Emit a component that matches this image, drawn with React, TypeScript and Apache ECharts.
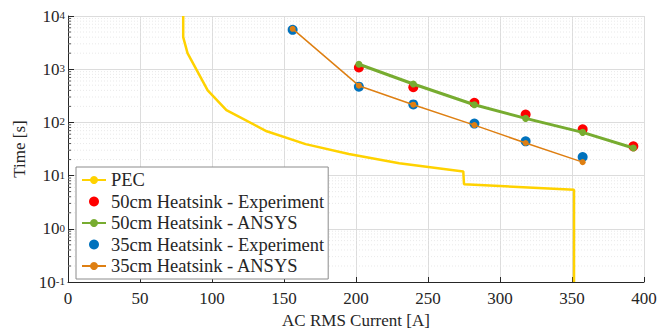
import React, { useEffect, useRef } from "react";
import * as echarts from "echarts";

const pecX = [80, 80, 83, 97, 110, 138, 165, 195, 230, 274.5, 275, 351.4, 351.4];
const pecY = [10000, 4000, 2000, 400, 170, 68, 39, 25.5, 17, 12, 6.9, 5.4, 0.1];

const ansysX = [202, 239.8, 282.2, 317.8, 357.4, 392.6];
const exp50Y = [1075, 458, 234, 141, 74, 35.5];
const ansys50Y = [1240, 527, 215, 119, 65, 33];

const x35 = [156, 202, 239.8, 282.2, 317.8, 357.4];
const exp35Y = [5500, 470, 218, 95, 44, 22.4];
const ansys35Y = [5740, 490, 215, 89, 41, 17.9];

const minorTickValues: number[] = [];
for (let e = -1; e < 4; e++) {
  for (let m = 2; m <= 9; m++) minorTickValues.push(m * Math.pow(10, e));
}

const seriesNames = [
  "PEC",
  "50cm Heatsink - Experiment",
  "50cm Heatsink - ANSYS",
  "35cm Heatsink - Experiment",
  "35cm Heatsink - ANSYS",
];

const FONT = "Liberation Serif";
const TXT = "#262626";

function zip(xs: number[], ys: number[]) {
  return xs.map((x, i) => [x, ys[i]]);
}

export default function App() {
  const ref = useRef<HTMLDivElement>(null);
  useEffect(() => {
    const chart = echarts.init(ref.current!, null, { renderer: "svg" });
    chart.setOption({
      animation: false,
      backgroundColor: "#fff",
      textStyle: { fontFamily: FONT },
      grid: { left: 68, right: 28, top: 16, bottom: 47 },
      xAxis: {
        type: "value",
        min: 0,
        max: 400,
        interval: 50,
        name: "AC RMS Current [A]",
        nameLocation: "middle",
        nameGap: 30,
        nameTextStyle: { fontFamily: FONT, fontSize: 17, color: TXT },
        axisLine: { show: true, lineStyle: { color: TXT, width: 1 } },
        axisTick: { inside: true, length: 5, lineStyle: { color: TXT } },
        axisLabel: { fontFamily: FONT, fontSize: 17, color: TXT, margin: 8 },
        splitLine: { show: true, lineStyle: { color: "#dcdcdc", width: 1 } },
      },
      yAxis: {
        type: "log",
        logBase: 10,
        min: 0.1,
        max: 10000,
        interval: 1,
        name: "Time [s]",
        nameLocation: "middle",
        nameGap: 35,
        nameTextStyle: { fontFamily: FONT, fontSize: 17, color: TXT },
        axisLine: { show: true, lineStyle: { color: TXT, width: 1 } },
        axisTick: { inside: true, length: 6, lineStyle: { color: TXT } },
        axisLabel: {
          fontFamily: FONT,
          fontSize: 17,
          color: TXT,
          margin: 3,
          formatter: (v: number) => "{b|10}{sup|" + Math.round(Math.log10(v)) + "}",
          rich: {
            b: { fontFamily: FONT, fontSize: 17, lineHeight: 17, color: TXT, verticalAlign: "bottom", padding: [5, 0, 0, 0] },
            sup: { fontFamily: FONT, fontSize: 11, lineHeight: 11, color: TXT, verticalAlign: "top", padding: [2, 0, 0, 0] },
          },
        },
        splitLine: { show: true, lineStyle: { color: "#dcdcdc", width: 1 } },
      },
      legend: {
        orient: "vertical",
        left: 76,
        top: 167,
        data: seriesNames,
        backgroundColor: "#fff",
        borderColor: "#8c8c8c",
        borderWidth: 1,
        borderRadius: 0,
        padding: [3, 4, 3, 5],
        itemWidth: 24,
        itemHeight: 10,
        itemGap: 1.5,
        textStyle: { fontFamily: FONT, fontSize: 18.5, color: TXT, lineHeight: 20 },
      },
      series: [
        {
          type: "custom",
          z: 1,
          silent: true,
          data: minorTickValues.map((v) => [v]),
          encode: { y: 0 },
          renderItem: (params: any, api: any) => {
            const v = api.value(0);
            const p0 = api.coord([0, v]);
            const p1 = api.coord([400, v]);
            return {
              type: "group",
              children: [
                {
                  type: "line",
                  shape: { x1: p0[0], y1: p0[1], x2: p1[0], y2: p1[1] },
                  style: { stroke: "#e3e3e3", lineWidth: 0.8, lineDash: [1, 2] },
                },
                {
                  type: "line",
                  shape: { x1: p0[0], y1: p0[1], x2: p0[0] + 3, y2: p0[1] },
                  style: { stroke: TXT, lineWidth: 0.8 },
                },
              ],
            };
          },
        },
        {
          name: seriesNames[0],
          type: "line",
          z: 2,
          data: zip(pecX, pecY),
          symbol: "none",
          lineStyle: { color: "#FFD200", width: 2.5 },
          itemStyle: { color: "#FFD200" },
        },
        {
          name: seriesNames[1],
          type: "scatter",
          z: 3,
          data: zip(ansysX, exp50Y),
          symbolSize: 10,
          itemStyle: { color: "#FF0000", opacity: 1 },
        },
        {
          name: seriesNames[2],
          type: "line",
          z: 4,
          data: zip(ansysX, ansys50Y),
          symbol: "circle",
          symbolSize: 7,
          showSymbol: true,
          lineStyle: { color: "#77AC30", width: 3 },
          itemStyle: { color: "#77AC30" },
        },
        {
          name: seriesNames[3],
          type: "scatter",
          z: 3,
          data: zip(x35, exp35Y),
          symbolSize: 10,
          itemStyle: { color: "#0072BD", opacity: 1 },
        },
        {
          name: seriesNames[4],
          type: "line",
          z: 4,
          data: zip(x35, ansys35Y),
          symbol: "circle",
          symbolSize: 6,
          showSymbol: true,
          lineStyle: { color: "#DE7F12", width: 1.5 },
          itemStyle: { color: "#DE7F12" },
        },
      ],
    });
    return () => chart.dispose();
  }, []);
  return (
    <div
      ref={ref}
      style={{ position: "absolute", left: 0, top: 0, width: 672, height: 334 }}
    />
  );
}
